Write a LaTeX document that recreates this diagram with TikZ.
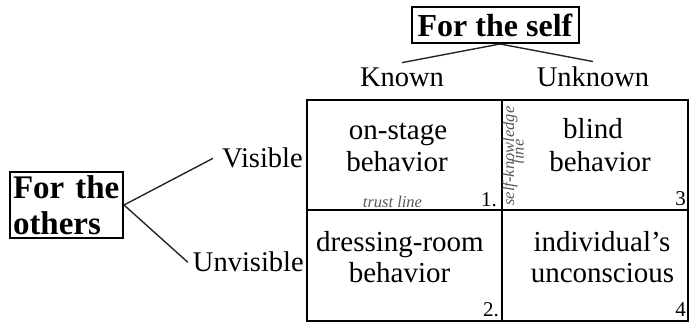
\documentclass[tikz,border=0pt]{standalone}
\usepackage{fontspec}
\setmainfont{Liberation Serif}
\begin{document}
\begin{tikzpicture}[x=1pt,y=-1pt,
  hdr/.style={draw,line width=2pt,font=\bfseries\fontsize{32}{36}\selectfont,inner sep=0pt},
  side/.style={font=\fontsize{28.5}{32}\selectfont},
  cell/.style={font=\fontsize{29}{32}\selectfont,anchor=base,inner sep=0pt},
  num/.style={font=\fontsize{21}{24}\selectfont,anchor=base east,inner sep=0pt},
  note/.style={font=\itshape\fontsize{16.5}{10}\selectfont,text=black!65,inner sep=0pt,anchor=base},
  conn/.style={line width=1.4pt,black!85}]
\useasboundingbox (0,0) rectangle (689,323);
% headers
\node[hdr,minimum width=167pt,minimum height=36pt] (self) at (495,25) {For the self};
\node[hdr,font=\bfseries\fontsize{33}{36}\selectfont,align=left,inner xsep=3pt,minimum height=66pt,text width=107pt] (others) at (66.5,205) {For the\\others};
% column / row labels
\node[side,anchor=base,inner xsep=0pt,inner ysep=5.5pt] (known) at (402,87) {Known};
\node[side,anchor=base,inner xsep=0pt,inner ysep=5.5pt] (unknown) at (593,87) {Unknown};
\node[side,anchor=base east,inner xsep=9pt,inner ysep=0pt] (visible) at (312,168) {Visible};
\node[side,anchor=base east,inner xsep=5pt,inner ysep=0pt] (unvisible) at (309,272) {Unvisible};
% connectors
\draw[conn] ([xshift=5pt]self.south) -- (known.north);
\draw[conn] ([xshift=5pt]self.south) -- (unknown.north);
\draw[conn] (others.east) -- (visible.west);
\draw[conn] (others.east) -- (unvisible.west);
% grid
\draw[line width=2.6pt] (307,100) rectangle (688,321);
\draw[line width=2pt] (502,100) -- (502,321);
\draw[line width=2pt] (307,210) -- (688,210);
% cell texts
\node[cell] (c1a) at (398,140) {on-stage};
\node[cell] (c1b) at (397,172) {behavior};
\node[cell] (c3a) at (593,139) {blind};
\node[cell] (c3b) at (600,172) {behavior};
\node[cell] (c2a) at (400,252) {dressing-room};
\node[cell] (c2b) at (399.5,283) {behavior};
\node[cell] (c4a) at (602,252) {individual’s};
\node[cell] (c4b) at (602.5,283) {unconscious};
% numbers
\node[num] (n1) at (497,207) {1.};
\node[num] (n3) at (686,206) {3};
\node[num] (n2) at (499,317) {2.};
\node[num] (n4) at (686,317) {4};
% small notes
\node[note] (trust) at (392.5,208) {trust line};
\node[note,rotate=90] (skl) at (514,156) {self-knowledge};
\node[note,rotate=90] (skl2) at (523.5,152) {line};
\end{tikzpicture}
\end{document}
